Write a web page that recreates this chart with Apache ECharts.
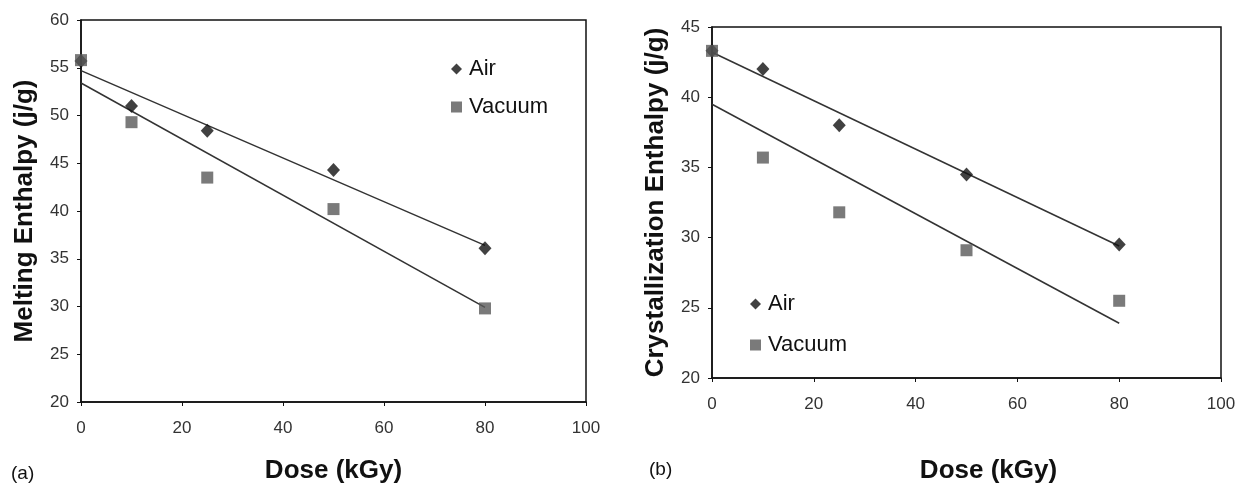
<!DOCTYPE html>
<html>
<head>
<meta charset="utf-8">
<script src="https://cdn.jsdelivr.net/npm/echarts@6/dist/echarts.min.js"></script>
<style>
  html, body { margin: 0; padding: 0; background: #fff; }
  #chart { width: 1241px; height: 489px; }
</style>
</head>
<body>
<div id="chart"></div>
<script>
// dose levels (kGy)
const doses = [0, 10, 25, 50, 80];
// (a) melting enthalpy, j/g
const meltAir = [55.7, 51.0, 48.4, 44.3, 36.1];
const meltVac = [55.8, 49.3, 43.5, 40.2, 29.8];
// (b) crystallization enthalpy, j/g
const crysAir = [43.3, 42.0, 38.0, 34.5, 29.5];
const crysVac = [43.3, 35.7, 31.8, 29.1, 25.5];
// trend lines, ends
const fitDoses = [0, 80];
const meltAirFit = [54.7, 36.4];
const meltVacFit = [53.4, 29.9];
const crysAirFit = [43.2, 29.4];
const crysVacFit = [39.5, 23.9];

const FONT = "'Liberation Sans', Arial, sans-serif";

function pairs(xs, ys) {
    return xs.map((x, i) => [x, ys[i]]);
}

function xAxisOf(gridIndex, namePad) {
    return {
        type: 'value',
        gridIndex: gridIndex,
        min: 0,
        max: 100,
        interval: 20,
        name: 'Dose (kGy)',
        nameLocation: 'middle',
        nameGap: gridIndex === 0 ? 56 : 80,
        nameTextStyle: {
            fontFamily: FONT, fontSize: 26, fontWeight: 'bold', color: '#111',
            padding: namePad
        },
        axisLine: { show: true, onZero: false, lineStyle: { color: '#111', width: 1.5 } },
        axisTick: { show: true, inside: false, length: 4, lineStyle: { color: '#111' } },
        axisLabel: { fontFamily: FONT, fontSize: 17, color: '#333', margin: 18 },
        splitLine: { show: false }
    };
}

function yAxisOf(gridIndex, min, max, name) {
    return {
        type: 'value',
        gridIndex: gridIndex,
        min: min,
        max: max,
        interval: 5,
        name: name,
        nameLocation: 'middle',
        nameGap: 43,
        nameTextStyle: { fontFamily: FONT, fontSize: 26, fontWeight: 'bold', color: '#111' },
        axisLine: { show: true, onZero: false, lineStyle: { color: '#111', width: 1.5 } },
        axisTick: { show: true, inside: false, length: 4, lineStyle: { color: '#111' } },
        axisLabel: { fontFamily: FONT, fontSize: 17, color: '#333', margin: 12 },
        splitLine: { show: false }
    };
}

function fitLine(idx, ys) {
    return {
        type: 'line',
        name: 'fit',
        xAxisIndex: idx,
        yAxisIndex: idx,
        data: pairs(fitDoses, ys),
        showSymbol: false,
        silent: true,
        z: 1,
        lineStyle: { color: '#333', width: 1.5 }
    };
}

function points(idx, name, ys) {
    const isAir = name === 'Air';
    return {
        type: 'scatter',
        name: name,
        xAxisIndex: idx,
        yAxisIndex: idx,
        data: pairs(doses, ys),
        symbol: isAir ? 'diamond' : 'rect',
        symbolSize: isAir ? [13, 14] : 12,
        z: isAir ? 3 : 4,
        itemStyle: { color: isAir ? '#111' : '#595959' }
    };
}

function legendOf(left, top, gap) {
    return {
        orient: 'vertical',
        left: left,
        top: top,
        itemGap: gap,
        itemWidth: 11,
        itemHeight: 11,
        data: [
            { name: 'Air', icon: 'diamond' },
            { name: 'Vacuum', icon: 'rect' }
        ],
        textStyle: { fontFamily: FONT, fontSize: 22, color: '#111', padding: [0, 0, 0, 2] }
    };
}

const chart = echarts.init(document.getElementById('chart'));
chart.setOption({
    backgroundColor: '#fff',
    animation: false,
    grid: [
        { left: 81, top: 20, width: 505, height: 382, show: true, borderColor: '#111', borderWidth: 1.5 },
        { left: 712, top: 27, width: 509, height: 351, show: true, borderColor: '#111', borderWidth: 1.5 }
    ],
    xAxis: [xAxisOf(0, [0, 0, 0, 0]), xAxisOf(1, [0, 0, 0, 44])],
    yAxis: [
        yAxisOf(0, 20, 60, 'Melting Enthalpy (j/g)'),
        yAxisOf(1, 20, 45, 'Crystallization Enthalpy (j/g)')
    ],
    legend: [legendOf(446, 53, 16), legendOf(745, 288, 19)],
    graphic: [
        { type: 'text', left: 11, top: 464, style: { text: '(a)', font: '19px ' + FONT, fill: '#111' } },
        { type: 'text', left: 649, top: 460, style: { text: '(b)', font: '19px ' + FONT, fill: '#111' } }
    ],
    series: [
        fitLine(0, meltAirFit),
        fitLine(0, meltVacFit),
        points(0, 'Air', meltAir),
        points(0, 'Vacuum', meltVac),
        fitLine(1, crysAirFit),
        fitLine(1, crysVacFit),
        points(1, 'Air', crysAir),
        points(1, 'Vacuum', crysVac)
    ]
});
</script>
</body>
</html>
